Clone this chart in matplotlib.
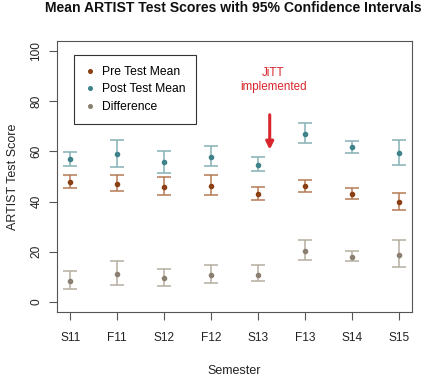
import matplotlib
matplotlib.use('Agg')
import matplotlib.pyplot as plt
from matplotlib.lines import Line2D
import numpy as np

plt.rcParams['font.family'] = ['Liberation Sans', 'DejaVu Sans']

semesters = ['S11', 'F11', 'S12', 'F12', 'S13', 'F13', 'S14', 'S15']

# means with lower / upper 95% CI bounds
pre_mean = [47.7, 47.2, 45.7, 46.4, 42.9, 46.1, 42.9, 39.9]
pre_lo = [45.3, 44.4, 42.5, 42.5, 40.5, 43.9, 41.1, 36.7]
pre_hi = [50.5, 50.5, 49.7, 50.5, 45.9, 48.8, 45.5, 43.5]

post_mean = [56.8, 58.8, 55.6, 57.7, 54.7, 67.1, 61.6, 59.2]
post_lo = [54.1, 53.6, 51.5, 54.0, 52.3, 63.3, 59.5, 54.4]
post_hi = [59.7, 64.7, 60.1, 62.0, 57.6, 71.3, 64.3, 64.5]

diff_mean = [8.5, 11.2, 9.5, 10.8, 10.8, 20.5, 18.1, 18.9]
diff_lo = [5.3, 6.7, 6.3, 7.6, 8.5, 16.8, 16.4, 14.0]
diff_hi = [12.3, 16.5, 13.2, 14.8, 14.7, 24.8, 20.5, 24.5]

series = [
    ('Pre Test Mean', pre_mean, pre_lo, pre_hi, '#8b3f14', '#b57a55'),
    ('Post Test Mean', post_mean, post_lo, post_hi, '#3f8289', '#86b2b5'),
    ('Difference', diff_mean, diff_lo, diff_hi, '#8a7f70', '#b5aea2'),
]

fig = plt.figure(figsize=(4.27, 3.77), dpi=100)
ax = fig.add_axes([57 / 427, 1 - 312 / 377, 355 / 427, 271 / 377])

x = np.arange(1, len(semesters) + 1)
handles = []
for name, m, lo, hi, dot, bar in series:
    m = np.array(m)
    err = [m - np.array(lo), np.array(hi) - m]
    ax.errorbar(x, m, yerr=err, fmt='none', ecolor=bar, elinewidth=1.1,
                capsize=5.2, capthick=1.1)
    ax.plot(x, m, 'o', color=dot, ms=3.0, mec=dot)
    handles.append(Line2D([], [], marker='o', ls='none', color=dot, ms=2.6))

ax.set_xlim(0.72, 8.28)
ax.set_ylim(-4, 104)
ax.set_xticks(x)
ax.set_xticklabels(semesters, fontsize=8.6, color='#222222')
ax.set_yticks([0, 20, 40, 60, 80, 100])
ax.set_yticklabels(['0', '20', '40', '60', '80', '100'], fontsize=8.6,
                   color='#222222', rotation=90, va='center')
ax.tick_params(axis='x', length=5.5, width=0.8, color='#555555', pad=9)
ax.tick_params(axis='y', length=5.5, width=0.8, color='#555555', pad=5)
for s in ax.spines.values():
    s.set_color('#555555')
    s.set_linewidth(0.8)

leg = ax.legend(handles, [s[0] for s in series], loc='upper left',
                bbox_to_anchor=(74 / 427, 1 - 55 / 377),
                bbox_transform=fig.transFigure, fontsize=8.7,
                fancybox=False, edgecolor='#333333', framealpha=1,
                handlelength=0.8, handletextpad=0.6, borderpad=0.9,
                labelspacing=0.45, borderaxespad=0)
leg.get_frame().set_linewidth(0.8)

ax.annotate('', xy=(5.25, 59.6), xytext=(5.25, 75.7),
            arrowprops=dict(arrowstyle='-|>', color='#d8262c', lw=2.2,
                            mutation_scale=11))
ax.text(5.33, 88.6, 'JiTT\nimplemented', color='#d8262c', fontsize=8.4,
        ha='center', va='center', linespacing=1.2)

fig.text(233 / 427, 1 - 8 / 377, 'Mean ARTIST Test Scores with 95% Confidence Intervals',
         fontsize=10.1, fontweight='bold', ha='center', va='center', color='#111111')
fig.text(234.5 / 427, 1 - 371 / 377, 'Semester', fontsize=9, ha='center',
         va='center', color='#222222')
fig.text(13 / 427, 1 - 176.5 / 377, 'ARTIST Test Score', fontsize=9,
         rotation=90, ha='center', va='center', color='#222222')

fig.savefig('out.png', dpi=100)
